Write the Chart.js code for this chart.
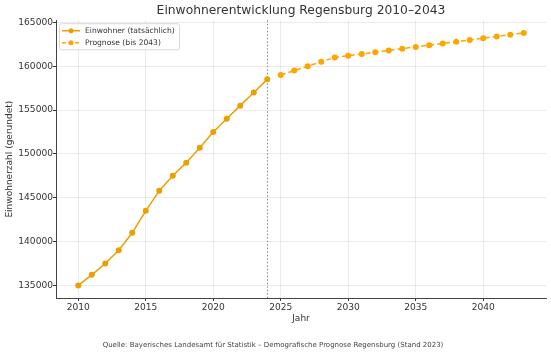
<!DOCTYPE html>
<html>
<head>
<meta charset="utf-8">
<script src="https://cdn.jsdelivr.net/npm/chart.js@4"></script>
<style>
html,body{margin:0;padding:0;background:#fff;}
#wrap{width:551px;height:355px;position:relative;}
</style>
</head>
<body>
<div id="wrap"><canvas id="c" width="551" height="355"></canvas></div>
<script>
const yearsActual = [2010,2011,2012,2013,2014,2015,2016,2017,2018,2019,2020,2021,2022,2023,2024];
const valuesActual = [135000,136200,137500,139000,141000,143500,145800,147500,149000,150700,152500,154000,155500,157000,158500];
const yearsForecast = [2025,2026,2027,2028,2029,2030,2031,2032,2033,2034,2035,2036,2037,2038,2039,2040,2041,2042,2043];
const valuesForecast = [159000,159500,160000,160500,161000,161200,161400,161600,161800,162000,162200,162400,162600,162800,163000,163200,163400,163600,163800];
const xTicks = [2010,2015,2020,2025,2030,2035,2040];
const yTicks = [135000,140000,145000,150000,155000,160000,165000];
const splitYear = 2024;
const labelActual = 'Einwohner (tatsächlich)';
const labelForecast = 'Prognose (bis 2043)';

const FONT = 'DejaVu Sans';
const colActual = '#E9A000';
const colForecast = '#FFA500';

const splitLine = {
  id:'splitLine',
  beforeDatasetsDraw(chart){
    const {ctx, chartArea, scales} = chart;
    const x = scales.x.getPixelForValue(splitYear);
    ctx.save();
    ctx.strokeStyle = '#888';
    ctx.lineWidth = 1;
    ctx.setLineDash([1.5,2]);
    ctx.beginPath();
    ctx.moveTo(Math.round(x)+0.5, chartArea.top);
    ctx.lineTo(Math.round(x)+0.5, chartArea.bottom);
    ctx.stroke();
    ctx.restore();
  }
};

const boxLegend = {
  id:'boxLegend',
  afterDraw(chart){
    const {ctx, chartArea} = chart;
    const x0 = chartArea.left + 3, y0 = chartArea.top + 3;
    const w = 120, h = 26;
    ctx.save();
    ctx.fillStyle = 'rgba(255,255,255,0.85)';
    ctx.strokeStyle = '#d8d8d8';
    ctx.lineWidth = 1;
    ctx.beginPath();
    if (ctx.roundRect) ctx.roundRect(x0+0.5, y0+0.5, w, h, 2); else ctx.rect(x0+0.5,y0+0.5,w,h);
    ctx.fill(); ctx.stroke();
    const items = [
      {label: labelActual, color: colActual, dash: []},
      {label: labelForecast, color: colForecast, dash: [4,2.5]}
    ];
    items.forEach((it,i)=>{
      const cy = y0 + 7.5 + i*12;
      ctx.strokeStyle = it.color;
      ctx.lineWidth = 1.5;
      ctx.setLineDash(it.dash);
      ctx.beginPath();
      ctx.moveTo(x0+3, cy); ctx.lineTo(x0+21, cy);
      ctx.stroke();
      ctx.setLineDash([]);
      ctx.fillStyle = it.color;
      ctx.beginPath(); ctx.arc(x0+12, cy, 2.5, 0, Math.PI*2); ctx.fill();
      ctx.fillStyle = '#333';
      ctx.font = '7.6px "' + FONT + '"';
      ctx.textBaseline = 'middle';
      ctx.textAlign = 'left';
      ctx.fillText(it.label, x0+26, cy+0.5);
    });
    ctx.restore();
  }
};

new Chart(document.getElementById('c'), {
  type:'line',
  data:{
    datasets:[
      {
        label: labelActual,
        data: yearsActual.map((y,i)=>({x:y, y:valuesActual[i]})),
        borderColor: colActual,
        backgroundColor: colActual,
        borderWidth: 1.5,
        pointRadius: 3,
        pointHoverRadius: 3,
        pointBorderWidth: 0,
        tension: 0
      },
      {
        label: labelForecast,
        data: yearsForecast.map((y,i)=>({x:y, y:valuesForecast[i]})),
        borderColor: colForecast,
        backgroundColor: colForecast,
        borderWidth: 1.5,
        borderDash: [5,3],
        pointRadius: 3,
        pointHoverRadius: 3,
        pointBorderWidth: 0,
        tension: 0
      }
    ]
  },
  options:{
    responsive:false,
    animation:false,
    events:[],
    layout:{padding:{left:0, right:5, top:0, bottom:0}},
    plugins:{
      legend:{display:false},
      tooltip:{enabled:false},
      title:{
        display:true,
        text:'Einwohnerentwicklung Regensburg 2010–2043',
        fullSize:false,
        color:'#333',
        font:{family:FONT, size:12.3, weight:'normal'},
        padding:{top:3.5, bottom:2}
      },
      subtitle:{
        display:true,
        position:'bottom',
        text:'Quelle: Bayerisches Landesamt für Statistik – Demografische Prognose Regensburg (Stand 2023)',
        color:'#444',
        font:{family:FONT, size:7, weight:'normal'},
        padding:{top:15.3, bottom:5.3}
      }
    },
    scales:{
      x:{
        type:'linear',
        min:2008.35,
        max:2044.65,
        afterBuildTicks(scale){ scale.ticks = xTicks.map(v=>({value:v})); },
        afterFit(scale){ scale.height = 28; },
        ticks:{color:'#333', font:{family:FONT, size:9.1}, padding:1, maxRotation:0, callback:v=>String(v)},
        grid:{color:'rgba(0,0,0,0.08)', borderDash:[1.5,2], tickBorderDash:[], tickColor:'#333', tickLength:3, drawTicks:true},
        border:{color:'#444', width:1, dash:[]},
        title:{display:true, text:'Jahr', color:'#333', font:{family:FONT, size:9}, padding:{top:0,bottom:2}}
      },
      y:{
        type:'linear',
        min:133560,
        max:165240,
        afterBuildTicks(scale){ scale.ticks = yTicks.map(v=>({value:v})); },
        afterFit(scale){ scale.width = 56; },
        ticks:{color:'#333', font:{family:FONT, size:9.1}, padding:0, callback:v=>String(v)},
        grid:{color:'rgba(0,0,0,0.08)', borderDash:[1.5,2], tickBorderDash:[], tickColor:'#333', tickLength:3, drawTicks:true},
        border:{color:'#444', width:1, dash:[]},
        title:{display:true, text:'Einwohnerzahl (gerundet)', color:'#333', font:{family:FONT, size:9}, padding:{top:4,bottom:0}}
      }
    }
  },
  plugins:[splitLine, boxLegend]
});
</script>
</body>
</html>
